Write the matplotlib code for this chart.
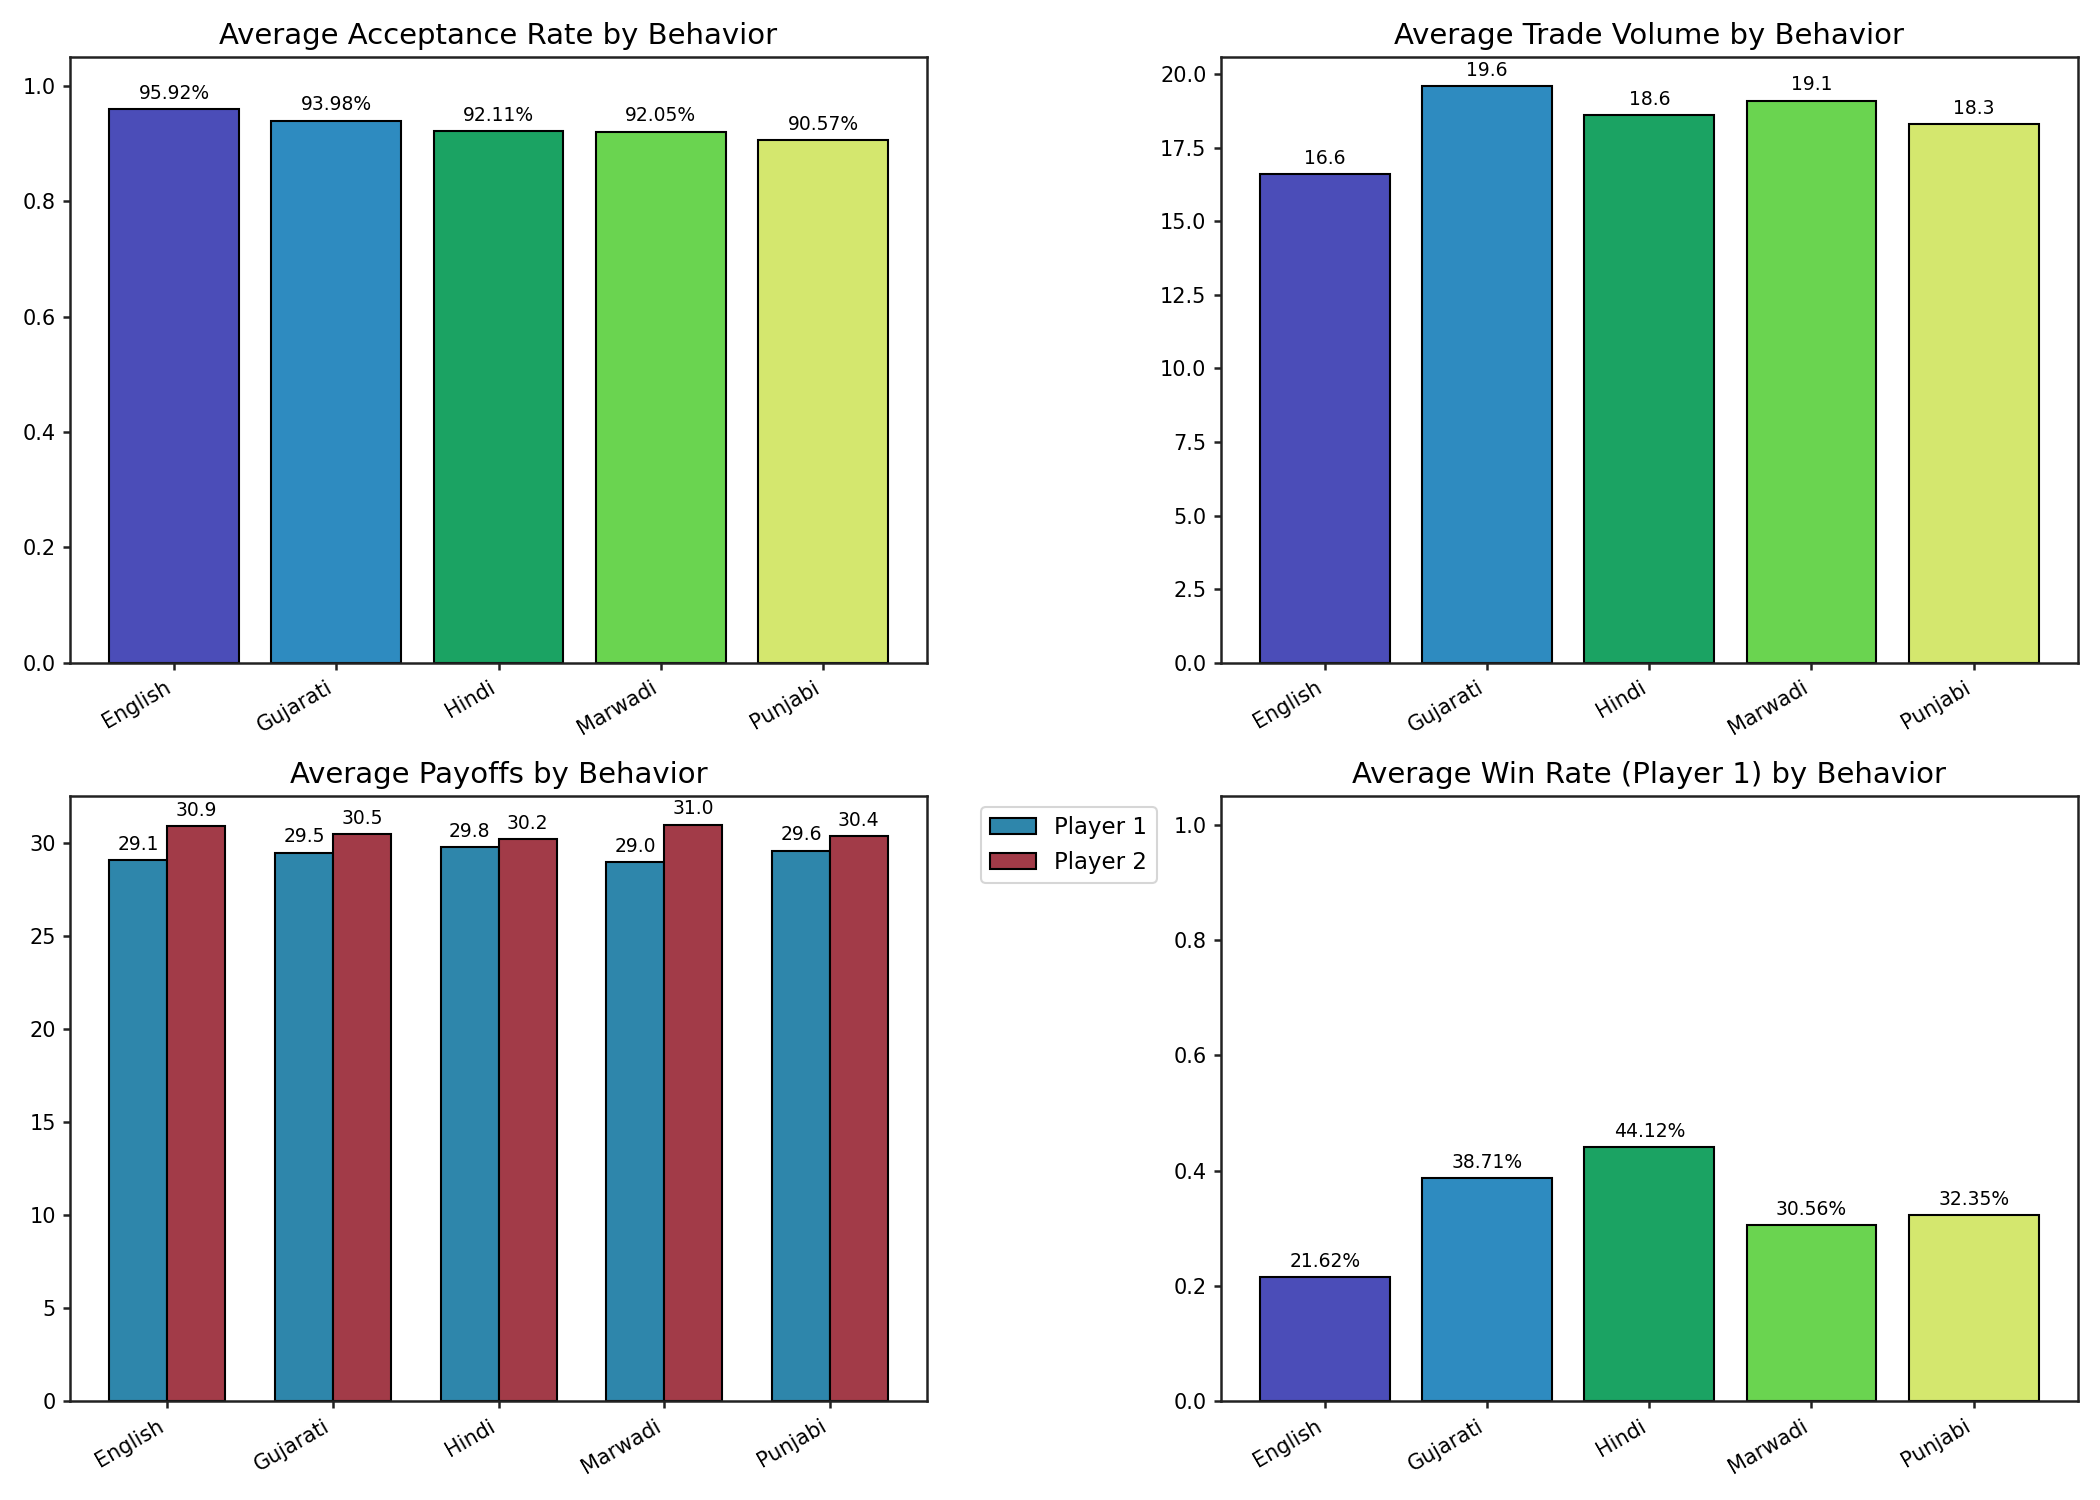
import matplotlib
matplotlib.use("Agg")
import matplotlib.pyplot as plt
import numpy as np

behaviors = ["English", "Gujarati", "Hindi", "Marwadi", "Punjabi"]
acceptance_rate = [0.9592, 0.9398, 0.9211, 0.9205, 0.9057]
trade_volume = [16.6, 19.6, 18.6, 19.1, 18.3]
payoff_p1 = [29.1, 29.5, 29.8, 29.0, 29.6]
payoff_p2 = [30.9, 30.5, 30.2, 31.0, 30.4]
win_rate_p1 = [0.2162, 0.3871, 0.4412, 0.3056, 0.3235]

bar_colors = ["#4B4DB8", "#2E8BC0", "#1BA363", "#6AD450", "#D4E76E"]
p1_color = "#2E86AB"
p2_color = "#A23B48"

plt.rcParams.update({
    "axes.linewidth": 1.2,
    "axes.edgecolor": "#222222",
    "xtick.major.width": 1.2,
    "ytick.major.width": 1.2,
    "xtick.color": "#222222",
    "ytick.color": "#222222",
    "xtick.labelcolor": "black",
    "ytick.labelcolor": "black",
})

fig, axes = plt.subplots(2, 2, figsize=(14, 10), dpi=150)
x = np.arange(len(behaviors))

def annotate(ax, bars, fmt):
    for b in bars:
        h = b.get_height()
        ax.annotate(fmt(h), xy=(b.get_x() + b.get_width() / 2, h),
                    xytext=(0, 3), textcoords="offset points",
                    ha="center", va="bottom", fontsize=9)

# Acceptance rate
ax = axes[0, 0]
bars = ax.bar(x, acceptance_rate, color=bar_colors, edgecolor="black")
annotate(ax, bars, lambda v: f"{v*100:.2f}%")
ax.set_ylim(0, 1.05)
ax.set_title("Average Acceptance Rate by Behavior", fontsize=14)
ax.set_xticks(x)
ax.set_xticklabels(behaviors, rotation=30, ha="right")

# Trade volume
ax = axes[0, 1]
bars = ax.bar(x, trade_volume, color=bar_colors, edgecolor="black")
annotate(ax, bars, lambda v: f"{v:.1f}")
ax.set_title("Average Trade Volume by Behavior", fontsize=14)
ax.set_xticks(x)
ax.set_xticklabels(behaviors, rotation=30, ha="right")

# Payoffs
ax = axes[1, 0]
w = 0.35
b1 = ax.bar(x - w / 2, payoff_p1, w, color=p1_color, edgecolor="black", label="Player 1")
b2 = ax.bar(x + w / 2, payoff_p2, w, color=p2_color, edgecolor="black", label="Player 2")
annotate(ax, b1, lambda v: f"{v:.1f}")
annotate(ax, b2, lambda v: f"{v:.1f}")
ax.set_title("Average Payoffs by Behavior", fontsize=14)
ax.set_xticks(x)
ax.set_xticklabels(behaviors, rotation=30, ha="right")
ax.legend(bbox_to_anchor=(1.05, 1), loc="upper left", fontsize=11)

# Win rate
ax = axes[1, 1]
bars = ax.bar(x, win_rate_p1, color=bar_colors, edgecolor="black")
annotate(ax, bars, lambda v: f"{v*100:.2f}%")
ax.set_ylim(0, 1.05)
ax.set_title("Average Win Rate (Player 1) by Behavior", fontsize=14)
ax.set_xticks(x)
ax.set_xticklabels(behaviors, rotation=30, ha="right")

plt.tight_layout()
fig.savefig("out.png", dpi=150)
